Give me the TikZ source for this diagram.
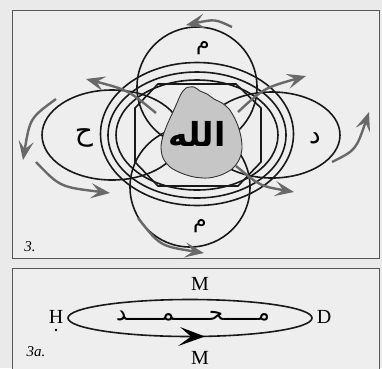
\documentclass[tikz,border=0pt]{standalone}
\usepackage{fontspec}
\setmainfont{Liberation Serif}
\newfontfamily\arabicfont[Script=Arabic]{DejaVu Sans}
\TeXXeTstate=1
\usetikzlibrary{arrows.meta}
\definecolor{bg}{RGB}{234,234,234}
\definecolor{panel}{RGB}{238,238,238}
\definecolor{arrowgrey}{RGB}{105,105,105}
\definecolor{blobgrey}{RGB}{198,198,198}
\definecolor{frame}{RGB}{85,85,85}
\begin{document}
\begin{tikzpicture}[x=1pt,y=-1pt,
  ring/.style={draw=black!90,line width=1.6pt},
  flow/.style={draw=arrowgrey,line width=2.4pt,-{Stealth[length=19pt,width=15pt,inset=8pt]}},
  frm/.style={draw=frame,line width=1pt},
  lbl/.style={inner sep=0pt},
  arab/.style={lbl,font=\arabicfont}]
\useasboundingbox[fill=bg] (0,0) rectangle (382,368);
\draw[frm,fill=panel] (12,10) rectangle (379,258);
\draw[frm,fill=panel] (12,268) rectangle (379,372);
% petals
\draw[ring] (197,87) circle (60);
\draw[ring] (190,187) circle (60);
\draw[ring] (112,135) ellipse [x radius=70,y radius=45];
\draw[ring] (272,135) ellipse [x radius=68,y radius=43];
% concentric rings
\draw[ring] (197,134) ellipse [x radius=96.5,y radius=71.5];
\draw[ring] (197,135) ellipse [x radius=89,y radius=63];
\draw[ring] (197,135) ellipse [x radius=81,y radius=55];
% octagon
\draw[ring] (158,84) -- (236,84) -- (261,108) -- (261,162) -- (238,186) -- (158,186) -- (135,162) -- (135,108) -- cycle;
% grey flow arrows
\draw[flow] (232,27) .. controls (215,19) .. (186,25);
\draw[flow] (156,113) .. controls (128,90) .. (86,79);
\draw[flow] (56,99) .. controls (30,118) .. (23,160);
\draw[flow] (36,162) .. controls (60,187) .. (110,193);
\draw[flow] (138,218) .. controls (160,246) .. (204,253);
\draw[flow] (236,166) .. controls (260,186) .. (294,192);
\draw[flow] (332,162) .. controls (356,150) .. (369,112);
\draw[flow] (238,112) .. controls (264,88) .. (306,76);
% grey blob
\draw[draw=black!80,line width=0.9pt,fill=blobgrey] plot[smooth cycle,tension=0.5] coordinates {
 (186,88) (194,87) (200,91) (207,94) (214,99) (222,103) (229,109) (234,117) (238,126)
 (241,137) (242,149) (239,160) (232,169) (221,175) (208,178) (194,177) (181,173)
 (170,167) (163,158) (161,147) (163,136) (167,125) (172,114) (177,103) (181,94)};
% texts
\node[arab] (allah) at (197,134) {\bfseries\fontsize{33}{38}\selectfont\beginR الله\endR};
\node[arab] (mimtop) at (203,48) {\fontsize{22}{24}\selectfont\beginR م\endR};
\node[arab] (mimbot) at (200,226) {\fontsize{22}{24}\selectfont\beginR م\endR};
\node[arab] (ha) at (84,138) {\fontsize{28}{30}\selectfont\beginR ح\endR};
\node[arab] (dal) at (315,138) {\fontsize{26}{28}\selectfont\beginR د\endR};
\node[lbl] (three) at (30,247) {\fontsize{15}{17}\selectfont\itshape 3.};
% panel 3a
\draw[ring] (190,318) ellipse [x radius=122,y radius=18.5];
\fill (180,327) -- (205,336.5) -- (178,346) -- (191,336.5) -- cycle;
\node[lbl] (mup) at (200,284) {\fontsize{20}{22}\selectfont M};
\node[lbl] (mdown) at (200,358) {\fontsize{20}{22}\selectfont M};
\node[lbl] (hh) at (56,317) {\fontsize{20}{22}\selectfont H};
\fill (56,330) circle (1.3);
\node[lbl] (dd) at (324,317) {\fontsize{20}{22}\selectfont D};
\node[arab] (muhammad) at (193,316) {\fontsize{23}{25}\selectfont\beginR مـــــحـــــمـــــد\endR};
\node[lbl] (threea) at (36,352) {\fontsize{15}{17}\selectfont\itshape 3a.};
\end{tikzpicture}
\end{document}
